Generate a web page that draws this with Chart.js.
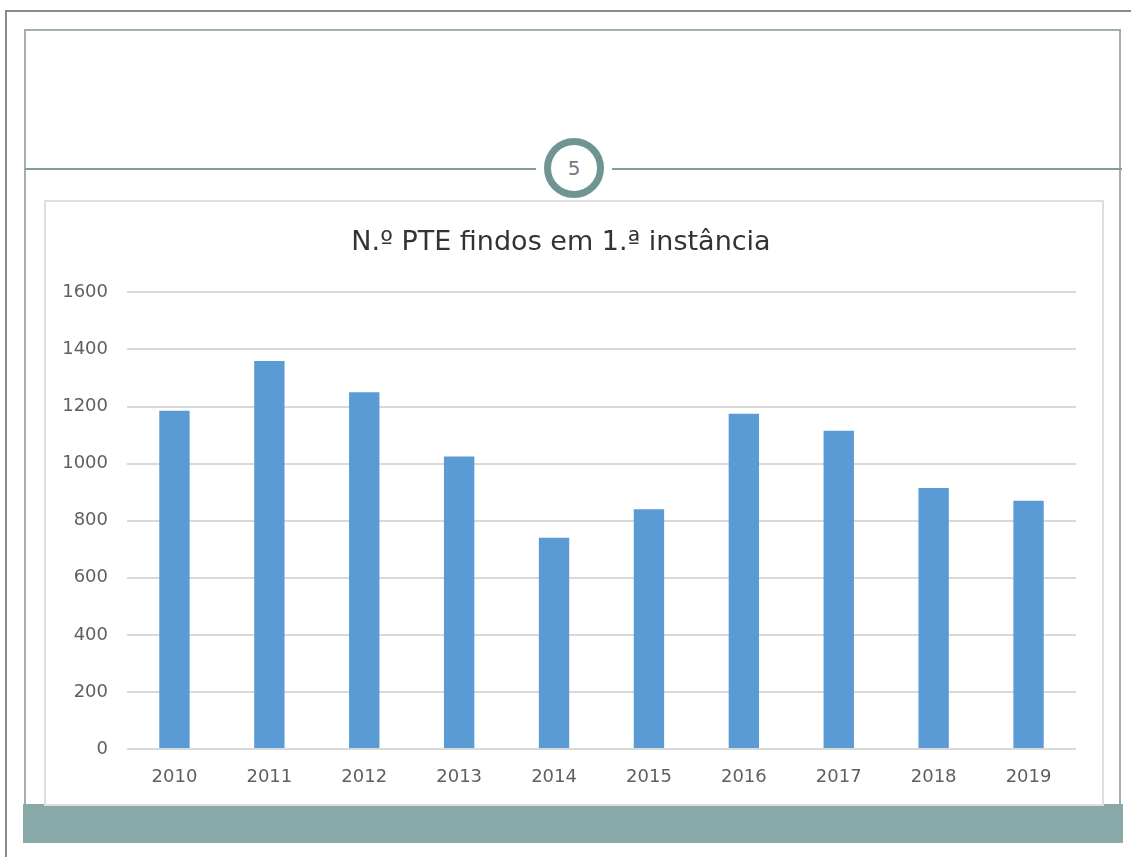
<!DOCTYPE html>
<html lang="pt">
<head>
<meta charset="utf-8">
<title>N.º PTE findos em 1.ª instância</title>
<script src="https://cdn.jsdelivr.net/npm/chart.js@4.4.1/dist/chart.umd.min.js"></script>
<style>
    body { margin: 0; background: #ffffff; width: 1131px; height: 857px; overflow: hidden; position: relative; }
    .moldura { position: absolute; left: 5px; top: 10px; width: 1200px; height: 900px; border-left: 2px solid #8a8a8a; border-top: 2px solid #8a8a8a; }
    .slide { position: absolute; left: 24px; top: 29px; width: 1097px; height: 775px; border: 2px solid #a3afaf; border-bottom: none; box-sizing: border-box; }
    .linha { position: absolute; left: 25px; top: 168px; width: 1097px; height: 2px; background: #7f9d9d; }
    .numero { position: absolute; left: 544px; top: 138px; width: 60px; height: 60px; box-sizing: border-box; border: 7px solid #6f9494; border-radius: 50%; background: #ffffff; box-shadow: 0 0 0 8px #ffffff; font-family: "DejaVu Sans", sans-serif; font-size: 20px; color: #7a7a7a; text-align: center; line-height: 46px; }
    .faixa { position: absolute; left: 23px; top: 804px; width: 1100px; height: 39px; background: #89a9a8; }
    .caixa { position: absolute; left: 44px; top: 200px; width: 1060px; height: 606px; box-sizing: border-box; border: 2px solid #dedede; background: #ffffff; }
    .grafico { position: absolute; left: 46px; top: 202px; width: 1056px; height: 602px; }
</style>
</head>
<body>
<div class="moldura"></div>
<div class="slide"></div>
<div class="linha"></div>
<div class="numero">5</div>
<div class="faixa"></div>
<div class="caixa"></div>
<div class="grafico"><canvas id="graficoPTE"></canvas></div>

<script>
// processos findos por ano
const anos = ['2010', '2011', '2012', '2013', '2014', '2015', '2016', '2017', '2018', '2019'];
const findos = [1185, 1360, 1250, 1025, 740, 840, 1175, 1115, 915, 870];
const marcasY = [0, 200, 400, 600, 800, 1000, 1200, 1400, 1600];
const titulo = 'N.º PTE findos em 1.ª instância';

document.addEventListener('DOMContentLoaded', function() {
    const ctx = document.getElementById('graficoPTE').getContext('2d');
    new Chart(ctx, {
        type: 'bar',
        data: {
            labels: anos,
            datasets: [{
                label: titulo,
                data: findos,
                backgroundColor: '#5b9bd5',
                borderWidth: 0,
                barPercentage: 0.32,
                categoryPercentage: 1
            }]
        },
        options: {
            responsive: true,
            maintainAspectRatio: false,
            animation: false,
            layout: { padding: { left: 0, right: 26, top: 25, bottom: 0 } },
            plugins: {
                legend: { display: false },
                tooltip: { enabled: false },
                title: {
                    display: true,
                    text: titulo,
                    color: '#333333',
                    font: { family: 'DejaVu Sans', size: 27, weight: 'normal' },
                    padding: { top: 0, bottom: 33 }
                }
            },
            scales: {
                x: {
                    grid: { display: false },
                    border: { display: false },
                    ticks: {
                        color: '#5f5f5f',
                        padding: 10,
                        font: { family: 'DejaVu Sans', size: 18 }
                    },
                    afterFit: function(scale) { scale.height = 55; }
                },
                y: {
                    min: 0,
                    max: 1600,
                    afterBuildTicks: function(scale) {
                        scale.ticks = marcasY.map(v => ({ value: v }));
                    },
                    grid: { color: '#d9d9d9', lineWidth: 2, drawTicks: false },
                    border: { display: false },
                    ticks: {
                        color: '#5f5f5f',
                        padding: 19,
                        font: { family: 'DejaVu Sans', size: 18 },
                        callback: function(valor) { return String(valor); }
                    },
                    afterFit: function(scale) { scale.width = 81; }
                }
            }
        }
    });
});
</script>
</body>
</html>
